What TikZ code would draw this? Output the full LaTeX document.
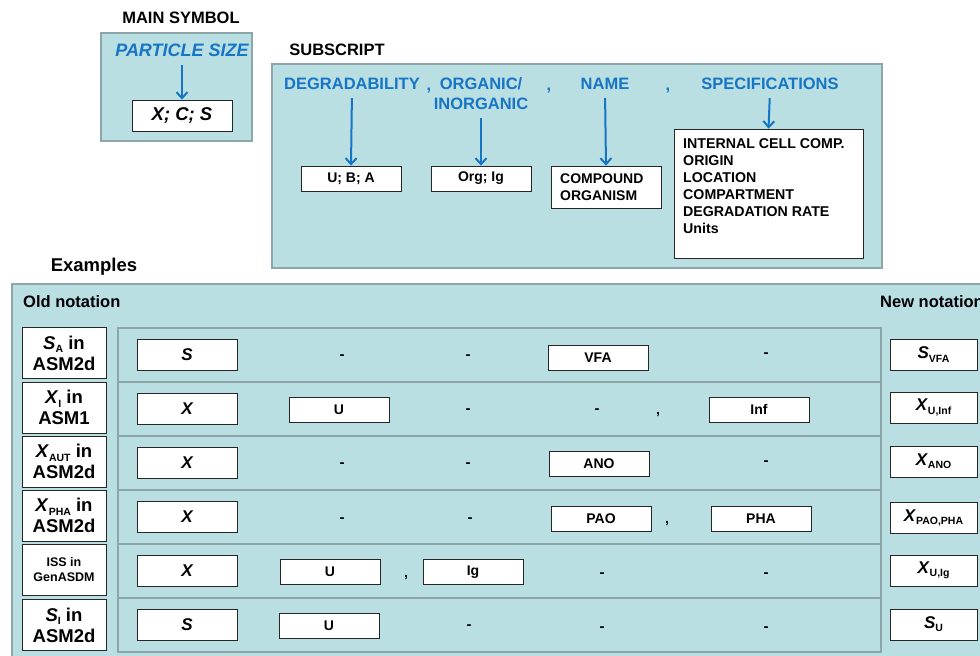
\documentclass[tikz,border=0pt]{standalone}
\usepackage{fontspec}
\setmainfont{Liberation Sans}
\usetikzlibrary{arrows.meta}
\definecolor{panelfill}{RGB}{186,223,227}
\definecolor{panelline}{RGB}{140,166,169}
\definecolor{labblue}{RGB}{22,117,196}
\newcommand\fs[2]{\fontsize{#1}{#2}\selectfont}
\newcommand\lowidx[1]{\raisebox{-0.35ex}{\fs{10.5}{11}\upshape\bfseries #1}}
\begin{document}
\begin{tikzpicture}[x=1pt,y=-1pt,
  panel/.style={draw=panelline, fill=panelfill, line width=2.5pt, inner sep=0pt},
  wbox/.style={draw=black!85, fill=white, line width=0.8pt, inner sep=0pt},
  title/.style={font=\fs{16.5}{19}\bfseries, inner sep=1pt},
  bluelab/.style={text=labblue, font=\fs{16.5}{20}\bfseries, inner sep=1pt},
  blarrow/.style={draw=labblue, line width=2pt, shorten <=7pt,
    -{Straight Barb[length=6pt,width=11pt,line width=2pt]}},
  smallbox/.style={wbox, minimum width=100pt, minimum height=25pt, font=\fs{14}{16}\bfseries},
  symbox/.style={wbox, minimum width=100pt, minimum height=31pt, font=\fs{17}{19}\bfseries\itshape},
  oldbox/.style={wbox, minimum width=84pt, minimum height=51pt, align=center, font=\fs{18.5}{21}\bfseries},
  newbox/.style={wbox, minimum width=87pt, minimum height=31pt, font=\fs{17}{19}\bfseries},
  rowpanel/.style={panel, minimum width=763pt, minimum height=54pt},
  dashlab/.style={font=\fs{15}{16}\bfseries, inner sep=0pt},
  commalab/.style={font=\fs{14}{16}\bfseries, inner sep=0pt, anchor=base}
]
\useasboundingbox (0,0) rectangle (980,656);

% ---------- main symbol ----------
\node[title] (mainT) at (181,18) {MAIN SYMBOL};
\node[panel, minimum width=151pt, minimum height=108pt] (mainP) at (176.5,87) {};
\node[bluelab, font=\fs{18}{20}\bfseries\itshape] (psize) at (182,50) {PARTICLE SIZE};
\node[wbox, minimum width=100pt, minimum height=31pt, font=\fs{18.5}{20}\bfseries\itshape] (xcs) at (182,115.5) {X; C; S};
\draw[blarrow] (psize.south) -- (xcs.north);

% ---------- subscript ----------
\node[title] (subT) at (337,50) {SUBSCRIPT};
\node[panel, minimum width=610pt, minimum height=204pt] (subP) at (577,166) {};
\node[bluelab] (deg) at (352,84) {DEGRADABILITY};
\node[bluelab, anchor=base] (c1) at (429,90) {,};
\node[bluelab] (org) at (481,84) {ORGANIC/};
\node[bluelab] (inorg) at (481,104) {INORGANIC};
\node[bluelab, anchor=base] (c2) at (549,90) {,};
\node[bluelab] (name) at (605,84) {NAME};
\node[bluelab, anchor=base] (c3) at (668,90) {,};
\node[bluelab] (spec) at (770,84) {SPECIFICATIONS};

\node[smallbox] (uba) at (351,178.5) {U; B; A};
\node[smallbox] (orgig) at (481,178.5) {Org; Ig};
\node[wbox, minimum width=110pt, minimum height=42pt] (comp) at (606,187) {};
\node[anchor=west, align=left, font=\fs{14}{17}\bfseries, inner sep=0pt] (compT) at (560,187) {COMPOUND\\ORGANISM};
\node[wbox, minimum width=189pt, minimum height=129pt] (specs) at (768.5,193.5) {};
\node[anchor=north west, align=left, font=\fs{14.2}{17}\bfseries, inner sep=0pt] (specsT) at (683,138)
  {INTERNAL CELL COMP.\\ORIGIN\\LOCATION\\COMPARTMENT\\DEGRADATION RATE\\Units};

\draw[blarrow] (deg.south) -- (uba.north);
\draw[blarrow] (inorg.south) -- (orgig.north);
\draw[blarrow] (name.south) -- (comp.north);
\draw[blarrow] (spec.south) -- (specs.north);

% ---------- examples ----------
\node[title, font=\fs{18.5}{20}\bfseries] (exT) at (94,267) {Examples};
\node[panel, minimum width=990pt, minimum height=400pt] (exP) at (507,484) {};
\node[title, font=\fs{16.5}{18}\bfseries, anchor=west] (oldT) at (22,302) {Old notation};
\node[title, font=\fs{16.5}{18}\bfseries, anchor=west] (newT) at (879,302) {New notation};

\foreach \i/\y/\s in {1/355/S,2/409/X,3/463/X,4/517/X,5/571/X,6/625/S}{
  \node[rowpanel] (row\i) at (499.5,\y) {};
  \node[symbox] (sym\i) at (187,\y) {\s};
}

% old notation
\node[oldbox] (old1) at (64,353) {\textit{S}\lowidx{A} in\\ASM2d};
\node[oldbox] (old2) at (64,407.5) {\textit{X}\lowidx{I} in\\ASM1};
\node[oldbox] (old3) at (64,461.5) {\textit{X}\lowidx{AUT} in\\ASM2d};
\node[oldbox] (old4) at (64,515.5) {\textit{X}\lowidx{PHA} in\\ASM2d};
\node[oldbox, font=\fs{12.5}{15}\bfseries] (old5) at (64,570) {ISS in\\GenASDM};
\node[oldbox] (old6) at (64,625) {\textit{S}\lowidx{I} in\\ASM2d};

% new notation
\node[newbox] (new1) at (933.5,354.5) {\textit{S}\lowidx{VFA}};
\node[newbox] (new2) at (933.5,407.5) {\textit{X}\lowidx{U,Inf}};
\node[newbox] (new3) at (933.5,461.5) {\textit{X}\lowidx{ANO}};
\node[newbox] (new4) at (933.5,518) {\textit{X}\lowidx{PAO,PHA}};
\node[newbox] (new5) at (933.5,570.5) {\textit{X}\lowidx{U,Ig}};
\node[newbox] (new6) at (933.5,624.5) {\textit{S}\lowidx{U}};

% row 1
\node[dashlab] (r1a) at (342,357) {-};
\node[dashlab] (r1b) at (468,357) {-};
\node[smallbox] (r1c) at (598,357.5) {VFA};
\node[dashlab] (r1d) at (766,355) {-};
% row 2
\node[smallbox] (r2a) at (339,409.5) {U};
\node[dashlab] (r2b) at (468,411) {-};
\node[dashlab] (r2c) at (597,411) {-};
\node[commalab] (r2k) at (658,414) {,};
\node[smallbox] (r2d) at (759,409.5) {Inf};
% row 3
\node[dashlab] (r3a) at (342,465) {-};
\node[dashlab] (r3b) at (468,465) {-};
\node[smallbox] (r3c) at (599,463.5) {ANO};
\node[dashlab] (r3d) at (766,463) {-};
% row 4
\node[dashlab] (r4a) at (342,520) {-};
\node[dashlab] (r4b) at (470,520) {-};
\node[smallbox] (r4c) at (601,518.5) {PAO};
\node[commalab] (r4k) at (667,523) {,};
\node[smallbox] (r4d) at (761,518.5) {PHA};
% row 5
\node[smallbox] (r5a) at (330,572) {U};
\node[commalab] (r5k) at (406,577) {,};
\node[smallbox] (r5b) at (473,572) {Ig};
\node[dashlab] (r5c) at (602,575) {-};
\node[dashlab] (r5d) at (766,575) {-};
% row 6
\node[smallbox] (r6a) at (329,625.5) {U};
\node[dashlab] (r6b) at (469,627) {-};
\node[dashlab] (r6c) at (602,629) {-};
\node[dashlab] (r6d) at (766,629) {-};
\end{tikzpicture}
\end{document}
